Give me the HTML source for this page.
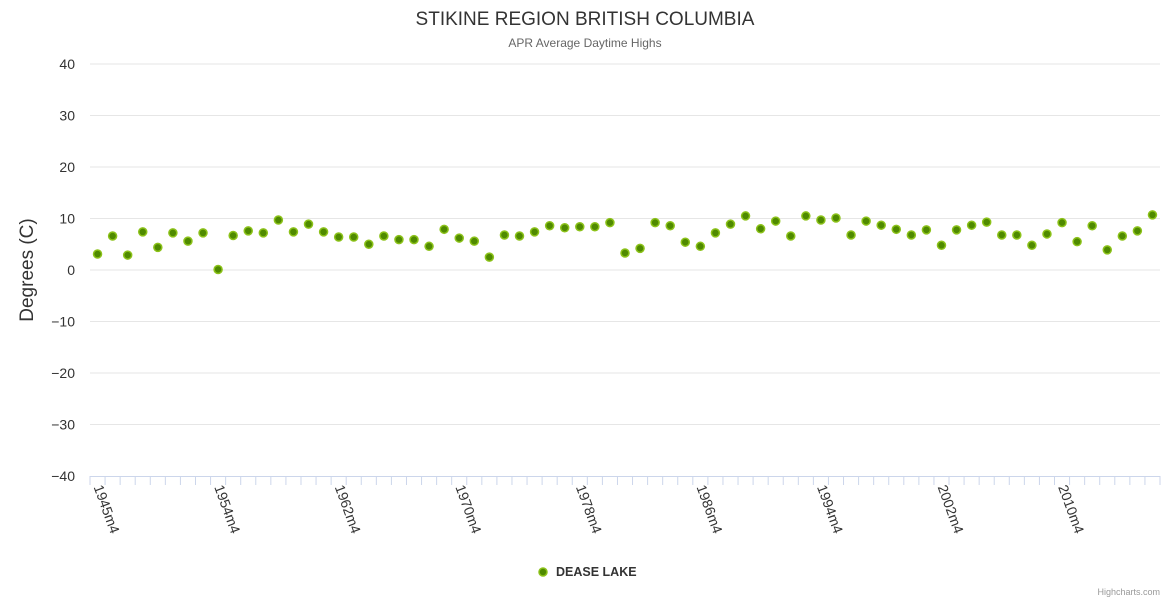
<!DOCTYPE html>
<html><head><meta charset="utf-8"><style>
body{margin:0;background:#fff;font-family:"Liberation Sans",sans-serif}
svg text{font-family:"Liberation Sans",sans-serif}
</style></head><body>
<svg id="chart" width="1170" height="600" xmlns="http://www.w3.org/2000/svg">
<rect width="1170" height="600" fill="#fff"/>
<text x="585" y="25" text-anchor="middle" font-size="19" fill="#333">STIKINE REGION BRITISH COLUMBIA</text>
<text x="585" y="47" text-anchor="middle" font-size="12" fill="#666">APR Average Daytime Highs</text>
<text transform="translate(33,270) rotate(-90)" text-anchor="middle" font-size="19" fill="#333">Degrees (C)</text>
<g id="grid"></g><g id="xaxis"></g><g id="pts"></g>
<g>
<circle cx="543" cy="572" r="4" fill="#4f8a00" stroke="#8cc21a" stroke-width="1.5"/>
<text x="556" y="576" font-size="12.5" font-weight="bold" fill="#333">DEASE LAKE</text>
</g>
<text x="1160" y="595" text-anchor="end" font-size="9" fill="#999">Highcharts.com</text>
</svg>
<script>
const startYear = 1945;
const skipAfterFirst = 1;
const values = [3.1,6.6,2.9,7.4,4.4,7.2,5.6,7.2,0.1,6.7,7.6,7.2,9.7,7.4,8.9,7.4,6.4,6.4,5.0,6.6,5.9,5.9,4.6,7.9,
6.2,5.6,2.5,6.8,6.6,7.4,8.6,8.2,8.4,8.4,9.2,3.3,4.2,9.2,8.6,5.4,4.6,7.2,8.9,10.5,8.0,9.5,6.6,
10.5,9.7,10.1,6.8,9.5,8.7,7.9,6.8,7.8,4.8,7.8,8.7,9.3,6.8,6.8,4.8,7.0,9.2,5.5,8.6,3.9,6.6,7.6,10.7];
const categories = values.map((v,i)=> (i===0? startYear : startYear+i+skipAfterFirst) + 'm4');
const yTicks = [40,30,20,10,0,-10,-20,-30,-40];
const NS='http://www.w3.org/2000/svg';
const X0=90,X1=1160,Y0=64,Y1=476,YMIN=-40,YMAX=40;
const bw=(X1-X0)/categories.length;
const xPos=i=>X0+bw*(i+0.5);
const yPos=v=>Y1-(v-YMIN)/(YMAX-YMIN)*(Y1-Y0);
function mk(t,a,p){const e=document.createElementNS(NS,t);for(const k in a)e.setAttribute(k,a[k]);p.appendChild(e);return e;}
const grid=document.getElementById('grid');
yTicks.forEach(t=>{
  const y=yPos(t);
  if(t!==YMIN){const l=mk('line',{x1:X0,x2:X1,y1:y,y2:y,stroke:'#e6e6e6','stroke-width':1},grid);
  
  }
  const tx=mk('text',{x:75,y:y+5,'text-anchor':'end','font-size':14,fill:'#333'},grid);
  tx.textContent=(t<0?'\u2212'+(-t):t);
  
  
});
const xa=document.getElementById('xaxis');
const al=mk('line',{x1:X0,x2:X1,y1:Y1+0.5,y2:Y1+0.5,stroke:'#ccd6eb'},xa);


for(let i=0;i<=categories.length;i++){
  const x=X0+bw*i;
  mk('line',{x1:x,x2:x,y1:Y1,y2:Y1+9,stroke:'#ccd6eb'},xa);
}
categories.forEach((c,i)=>{
  if(i%8!==0)return;
  const x=xPos(i)-4,y=Y1+11;
  const t=mk('text',{x:0,y:0,transform:`translate(${x},${y}) rotate(70)`,'font-size':14,fill:'#333'},xa);
  t.textContent=c;
  
  
});
const pts=document.getElementById('pts');
values.forEach((v,i)=>{
  const c=mk('circle',{cx:xPos(i),cy:yPos(v),r:4,fill:'#4f8a00',stroke:'#8cc21a','stroke-width':1.5},pts);
  
  
});
</script>
</body></html>
